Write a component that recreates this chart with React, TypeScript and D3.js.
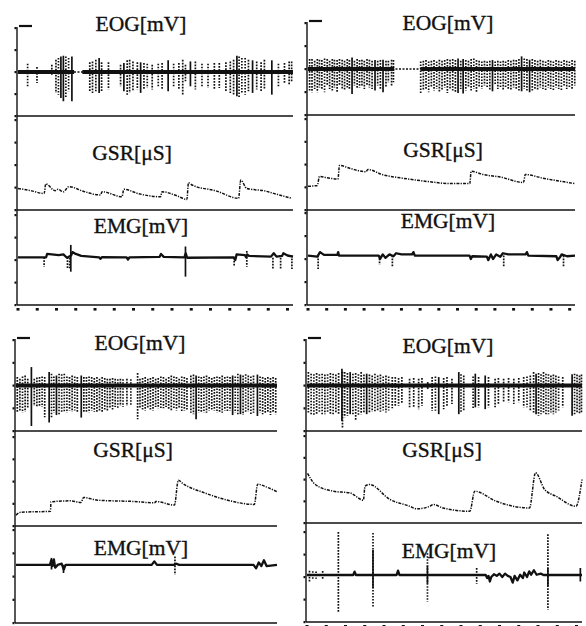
import React from 'react';
import * as d3 from 'd3';

type Spike = [number, number, number, number]; // t, hi, lo, solid(1)/dotted(0)
type Pt = [number, number];

// ---------- EOG spikes ----------
const eogSpikes1: Spike[] = [
  [3.5,0.38,-0.65,0],[6.9,0.23,-0.5,0],[12.3,0.33,-0.12,0],[13.8,0.56,-0.95,0],[14.7,0.64,-1.03,0],[15.6,0.71,-1.18,1],[16.5,0.74,-1.33,1],[17.4,0.71,-1.18,0],[18.4,0.64,-0.88,0],[19.6,0.71,-1.33,1],
  [26.1,0.44,-0.88,0],[27.1,0.48,-0.95,0],[28.3,0.56,-0.88,0],[29.5,0.64,-0.95,1],[30.4,0.44,-0.88,0],[32.9,0.44,-0.8,0],[37.3,0.33,-0.65,0],[38.5,0.41,-0.88,1],[39.7,0.53,-1.03,0],[40.6,0.56,-0.95,0],
  [41.8,0.48,-0.88,0],[43.4,0.44,-0.8,0],[44.6,0.44,-0.95,1],[45.8,0.41,-0.8,0],[47,0.38,-0.73,0],[48.8,0.33,-0.8,0],[51,0.38,-0.65,0],[52.4,0.41,-0.8,0],[54.6,0.53,-0.88,1],[56.6,0.38,-0.65,0],
  [58.5,0.41,-0.8,0],[59.9,0.56,-1.03,0],[60.9,0.33,-0.42,0],[62.7,0.48,-0.65,1],[64.5,0.48,-0.8,0],[66.9,0.38,-0.65,0],[69.1,0.38,-0.73,0],[71.4,0.41,-0.8,0],[73.2,0.41,-0.73,0],[75.6,0.44,-0.88,0],
  [77.2,0.48,-0.95,0],[78.4,0.56,-1.03,0],[79.6,0.74,-1.1,1],[80.4,0.71,-1.18,0],[81.4,0.64,-0.95,0],[82.6,0.64,-1.03,0],[83.8,0.56,-0.88,0],[85.3,0.53,-0.95,1],[86.8,0.48,-0.8,0],[88.4,0.44,-0.88,0],
  [89.6,0.56,-0.8,0],[92.3,0.53,-1.03,1],[94.7,0.38,-0.65,0],[96.9,0.41,-0.5,0],[98.6,0.48,-0.58,0],[99.5,0.48,-0.42,0],
];
const eogSpikes2: Spike[] = [
  [0.6,0.43,-0.94,0],[1.5,0.43,-1.01,0],[2.5,0.36,-0.87,0],[3.5,0.43,-1.01,0],[4.3,0.4,-0.8,0],[5.2,0.39,-0.87,0],[6.2,0.46,-1.01,0],[7.2,0.43,-0.72,0],[8.1,0.36,-0.87,0],[9.1,0.43,-0.94,0],
  [9.9,0.4,-0.8,0],[10.9,0.39,-1.01,0],[11.8,0.43,-0.72,0],[12.8,0.4,-0.87,0],[13.7,0.36,-0.94,0],[14.7,0.43,-0.8,0],[15.5,0.39,-0.87,0],[16.5,0.5,-1.09,1],[17.4,0.36,-0.72,0],[18.4,0.43,-0.87,0],
  [19.3,0.39,-0.8,0],[20.2,0.4,-0.72,0],[21.1,0.36,-0.87,0],[22.1,0.43,-0.72,0],[23,0.4,-0.8,0],[24,0.36,-0.87,0],[25.1,0.39,-0.94,1],[26.1,0.36,-0.72,0],[27.1,0.39,-0.87,0],[28.1,0.4,-1.01,1],
  [29.2,0.36,-0.8,0],[30.1,0.36,-0.58,0],[31.3,0.4,-0.72,0],[32,0.39,-0.58,0],
  [42.2,0.33,-1.09,0],[43.2,0.36,-0.94,0],[44.2,0.39,-0.87,0],[45.2,0.33,-1.01,0],[46.2,0.36,-0.8,0],[47.2,0.39,-0.94,0],[48.2,0.33,-0.87,0],[49.2,0.4,-1.01,0],[50.2,0.36,-0.94,0],[51.2,0.39,-0.8,0],
  [52.2,0.43,-1.04,0],[53.2,0.4,-0.87,0],[54.2,0.43,-0.94,0],[55.2,0.39,-1.01,0],[56.2,0.46,-1.04,1],[57.2,0.36,-0.87,0],[58.1,0.43,-1.06,1],[59.1,0.39,-0.94,0],[60.1,0.36,-0.8,0],[61.1,0.43,-0.94,0],
  [62.1,0.46,-0.87,0],[63.1,0.39,-1.01,0],[64.1,0.36,-0.8,0],[65.1,0.33,-0.87,0],[66.1,0.36,-0.72,0],[67.1,0.33,-0.8,0],[68.1,0.36,-0.94,0],[69.1,0.39,-0.97,1],[70.1,0.33,-0.72,0],[71.1,0.36,-0.87,0],
  [72.1,0.33,-0.8,0],[73.1,0.36,-0.94,0],[74,0.33,-0.8,0],[75,0.39,-0.87,0],[76,0.36,-0.94,0],[77,0.4,-0.8,0],[78,0.39,-0.87,0],[79,0.43,-0.94,0],[80,0.55,-0.97,1],[81,0.46,-0.87,0],
  [82,0.43,-0.94,0],[83,0.4,-1.01,1],[84,0.43,-0.94,0],[85,0.39,-0.87,0],[86,0.36,-0.94,0],[87,0.4,-0.8,0],[88,0.36,-0.87,0],[89,0.33,-0.94,0],[90,0.39,-0.8,0],[90.9,0.36,-0.87,0],
  [91.9,0.33,-0.94,0],[92.9,0.39,-0.8,0],[93.9,0.36,-0.87,0],[94.9,0.33,-0.94,0],[95.9,0.39,-0.72,0],[96.9,0.36,-0.87,0],[97.9,0.33,-0.8,0],[98.9,0.39,-0.87,0],[99.9,0.36,-0.72,0],
];
const eogSpikes3: Spike[] = [
  [0.5,0.37,-1.2,0],[1.5,0.3,-1.1,0],[2.5,0.4,-1.2,0],[3.5,0.44,-1.15,0],[4.5,0.3,-1.0,0],[5.9,0.81,-1.78,1],[7,0.3,-0.9,0],[8,0.35,-0.95,0],[9,0.37,-0.9,0],[10,0.4,-0.95,0],
  [11,0.37,-1.4,0],[12.7,0.59,-1.63,1],[13.6,0.52,-1.41,0],[14.5,0.4,-1.2,0],[15.5,0.44,-1.3,1],[16.5,0.52,-1.26,0],[17.5,0.5,-1.2,0],[18.5,0.52,-1.15,0],[19.5,0.4,-1.2,0],[20.5,0.37,-1.1,0],
  [21.5,0.44,-1.15,0],[22.5,0.4,-1.1,0],[23.5,0.37,-1.2,0],[25,0.44,-1.41,1],[26,0.37,-1.2,0],[27,0.37,-1.15,0],[28,0.4,-1.2,0],[29,0.37,-1.1,0],[30,0.33,-1.15,0],[31,0.37,-1.2,0],
  [32,0.3,-1.1,0],[33,0.37,-1.15,0],[34,0.33,-1.05,0],[35,0.3,-1.1,0],[36,0.3,-1.0,0],[37,0.33,-1.05,0],[38,0.3,-0.95,0],[39,0.28,-1.0,0],[40,0.3,-0.9,0],[41,0.28,-0.95,0],
  [42.5,0.3,-0.9,0],[44,0.28,-0.85,0],[46.6,0.55,-1.48,0],[47.5,0.3,-1.0,0],[48.5,0.33,-1.05,0],[49.5,0.37,-1.1,0],[50.5,0.3,-1.0,0],[51.5,0.33,-1.05,0],[52.5,0.37,-1.1,0],[53.5,0.3,-0.95,0],
  [54.5,0.33,-1.0,0],[55.5,0.4,-1.05,0],[56.5,0.37,-1.0,0],[57.5,0.3,-0.95,0],[58.5,0.37,-1.05,0],[59.5,0.44,-1.1,0],[60.5,0.4,-1.05,0],[61.5,0.37,-1.1,0],[62.5,0.3,-1.0,0],[63.5,0.4,-1.15,0],
  [64.5,0.37,-1.1,0],[65.5,0.33,-1.05,0],[67,0.44,-1.2,0],[68,0.48,-1.26,0],[69,0.44,-1.48,1],[70,0.4,-1.2,0],[71,0.37,-1.15,0],[72,0.4,-1.2,0],[73,0.44,-1.2,0],[74,0.37,-1.1,0],
  [75,0.33,-1.05,0],[76,0.37,-1.1,0],[77,0.4,-1.2,0],[78,0.37,-1.15,0],[79,0.44,-1.2,0],[80,0.37,-1.1,0],[81,0.4,-1.15,0],[82,0.37,-1.1,0],[83,0.44,-1.3,1],[84,0.4,-1.2,0],
  [85,0.52,-1.3,0],[86,0.48,-1.26,1],[87,0.44,-1.3,0],[88,0.5,-1.2,0],[89,0.44,-1.15,0],[90,0.4,-1.3,0],[91,0.44,-1.2,0],[92.5,0.48,-1.34,1],[93.5,0.4,-1.2,0],[94.5,0.37,-1.26,0],
  [95.5,0.33,-1.2,0],[96.5,0.37,-1.15,0],[97.5,0.33,-1.3,0],[98.5,0.37,-1.2,0],[99.5,0.33,-1.26,0],
];
const eogSpikes4: Spike[] = [
  [0.5,0.59,-1.19,0],[1.5,0.52,-1.26,0],[2.5,0.5,-1.33,0],[3.5,0.55,-1.26,0],[4.5,0.5,-1.19,0],[5.5,0.52,-1.33,0],[6.5,0.48,-1.26,0],[7.5,0.5,-1.19,0],[8.5,0.55,-1.26,0],[9.5,0.52,-1.33,0],
  [10.5,0.48,-1.19,0],[11.5,0.55,-1.3,0],[12.7,0.74,-1.56,1],[12.9,0.6,-1.85,0],[13.7,0.59,-1.4,0],[14.7,0.55,-1.33,0],[15.7,0.59,-1.26,1],[16.7,0.52,-1.3,0],[17.7,0.55,-1.56,0],[18.7,0.5,-1.3,0],
  [19.7,0.59,-1.26,0],[20.7,0.48,-1.19,0],[21.7,0.52,-1.26,1],[22.7,0.48,-1.19,0],[23.7,0.44,-1.15,0],[24.7,0.52,-1.2,0],[25.7,0.44,-1.1,0],[26.7,0.48,-1.15,0],[27.7,0.4,-1.1,0],[28.7,0.44,-1.19,0],
  [29.7,0.4,-1.1,0],[31,0.37,-1.0,0],[32.1,0.37,-0.89,0],[33.3,0.33,-0.89,0],[34.5,0.37,-0.81,0],[37.3,0.3,-0.96,0],[38.8,0.33,-0.96,0],[40.6,0.3,-1.04,0],[41.8,0.33,-0.89,0],[43.9,0.15,-0.15,1],
  [45.5,0.37,-1.11,0],[46.7,0.4,-1.11,0],[47.9,0.37,-1.26,1],[49.7,0.33,-1.04,0],[50.9,0.37,-0.89,0],[52.7,0.3,-0.81,0],[55.2,0.59,-1.26,1],[56,0.5,-1.19,0],[57,0.44,-1.11,0],[60.4,0.4,-1.04,0],
  [61.2,0.52,-0.96,1],[62.4,0.37,-0.96,0],[64.8,0.44,-1.04,1],[66,0.37,-0.96,0],[68.4,0.3,-0.96,0],[69.6,0.33,-0.81,0],[71.5,0.3,-0.74,0],[73.3,0.33,-0.74,0],[75.2,0.3,-0.81,0],[77,0.33,-0.74,0],
  [78.8,0.37,-0.96,0],[80,0.4,-0.96,0],[81.2,0.44,-1.11,0],[82.4,0.59,-1.19,0],[83.3,0.52,-1.26,1],[84.2,0.55,-1.33,0],[85.1,0.5,-1.26,0],[86,0.59,-1.19,0],[86.9,0.52,-1.33,0],[87.8,0.5,-1.26,0],
  [88.7,0.44,-1.19,0],[89.6,0.48,-1.26,0],[90.5,0.44,-1.19,0],[91.5,0.4,-1.1,0],[93,0.37,-0.96,0],[96.4,0.5,-1.33,1],[97.3,0.52,-1.26,0],[98.2,0.48,-1.19,0],[99.1,0.44,-1.26,0],[99.8,0.48,-1.19,0],
];

// thick EOG baseline segments (gaps are drawn dotted)
const eogBase1: Pt[] = [[0, 20.4], [23.4, 100]];
const eogBase2: Pt[] = [[0, 32.3], [42.2, 100]];
const eogBase3: Pt[] = [[0, 100]];
const eogBase4: Pt[] = [[0, 100]];

// ---------- GSR ----------
const gsr1: Pt[] = [
  [0,0.96],[5,0.85],[9.5,0.73],[10.1,1.16],[13.5,0.86],[14.5,0.92],[16.5,0.81],[18.5,1.04],[24,0.82],[30,0.67],[30.6,0.81],
  [37.8,0.59],[38.5,0.92],[44,0.72],[51.8,0.59],[52.4,0.81],[58,0.62],[61.4,0.47],[62,1.21],[63.3,1.11],[72,0.85],
  [80.2,0.52],[81,1.33],[83.2,0.96],[90,0.84],[92.9,0.74],[99.5,0.52],
];
const gsr2: Pt[] = [
  [0,1.04],[3.5,1.08],[4.3,1.48],[7,1.42],[11.2,1.36],[11.8,1.96],[16,1.82],[21.7,1.68],[22.4,1.78],[28,1.55],[34.8,1.41],
  [45,1.25],[53.4,1.16],[60.6,1.16],[61.1,1.7],[66,1.55],[72,1.45],[80.7,1.21],[81.4,1.56],[88,1.4],[100,1.16],
];
const gsr3: Pt[] = [
  [0,0.49],[1.9,0.62],[13.2,0.66],[13.4,1.09],[21.1,1.13],[24.9,1.06],[25.9,1.28],[31.3,1.16],[45.3,1.1],[53,1.04],[53.6,1.1],
  [60.7,0.94],[62.2,2.06],[63.9,1.91],[72,1.5],[81.1,1.16],[91.3,0.97],[92.6,1.88],[95.8,1.76],[100,1.54],
];
const gsr4: Pt[] = [
  [0.2,2.28],[3,1.77],[9.7,1.46],[15.7,1.38],[20.5,1.05],[21.1,1.69],[22.7,1.77],[30.2,1.08],[37.4,0.77],[39.9,0.65],[44.7,0.77],
  [45.9,0.85],[49.5,0.69],[59.2,0.54],[61,1.46],[68.8,1.0],[80.9,0.69],[83.1,2.31],[86.4,1.54],[90.6,1.23],[97.8,0.77],[100,2.0],
];

// ---------- EMG ----------
const emgLine1: Pt[] = [
  [0,0.12],[10.2,0.12],[10.6,0.27],[14.8,0.22],[16.5,0.25],[17.8,0.1],[19.3,0.2],[19.8,0.35],[21,0.27],[23,0.18],[29.5,0.12],[30,0.05],
  [30.5,0.13],[39.5,0.12],[40,0.02],[40.5,0.12],[51.5,0.14],[52,0.27],[53,0.14],[60.5,0.12],[61,0.3],[61.5,0.1],[78.5,0.12],[79,0.0],
  [79.5,0.25],[82.5,0.22],[83,0.12],[83.3,0.25],[84,0.18],[92,0.15],[93,0.3],[94,0.15],[96,0.18],[96.5,0.3],[98,0.2],[100,0.15],
];
const emgSpikes1: Spike[] = [
  [9.5,0.12,-0.3,0],[18,0.12,-0.4,0],[18.8,0.1,-0.37,0],[19.2,0.67,-0.52,1],[60.9,0.6,-0.74,1],[78.6,0.1,-0.3,0],[83.2,0.4,-0.3,0],[92.7,0.1,-0.4,0],[95.5,0.1,-0.4,0],[99.6,0.2,-0.4,0],
];
const emgLine2: Pt[] = [
  [0,0.15],[3.5,0.1],[4.5,0.3],[6,0.18],[11,0.18],[11.3,0.3],[11.6,0.15],[26.5,0.15],[27,0.0],[28,0.2],[29,0.05],[30.5,0.2],[32,0.12],
  [33,0.25],[35,0.2],[39,0.2],[39.5,0.3],[40,0.15],[60.5,0.15],[61,0.0],[61.5,0.12],[67,0.1],[67.5,-0.05],[68.5,0.2],[69.3,0.0],[70.5,0.2],
  [72,0.1],[73,0.25],[75,0.2],[81.5,0.2],[82,0.3],[82.5,0.15],[93,0.12],[93.5,-0.05],[94.5,0.1],[95,0.2],[97,0.12],[100,0.15],
];
const emgSpikes2: Spike[] = [
  [3.8,0.15,-0.44,0],[26.8,0.15,-0.25,0],[31.6,0.15,-0.37,0],[73.3,0.15,-0.37,0],[95.7,0.15,-0.37,0],
];
const emgLine3: Pt[] = [
  [0,0.5],[13,0.5],[13.5,0.7],[14,0.45],[14.5,0.74],[15,0.38],[16,0.5],[17.5,0.55],[18.3,0.3],[19,0.5],[52,0.5],[53,0.65],[54,0.5],
  [60.5,0.5],[61.5,0.55],[62.5,0.5],[91,0.5],[92,0.35],[93,0.6],[94,0.45],[95,0.7],[96,0.45],[100,0.5],
];
const emgSpikes3: Spike[] = [
  [13.6,0.8,0.3,1],[18.2,0.5,0.15,1],[60.9,0.86,0.07,0],
];
const emgLine4: Pt[] = [
  [0,0.09],[16.8,0.09],[17.3,0.24],[17.8,0.09],[32.6,0.09],[33.1,0.28],[33.6,0.09],[65,0.09],[65.5,-0.05],[66,0.05],[66.5,-0.2],[67,0.0],
  [68,0.12],[69,0.05],[70,0.15],[71,0.0],[72,0.15],[73,0.05],[74,0.0],[74.8,-0.25],[75.5,0.05],[76.5,-0.15],[77.5,0.1],[78.5,-0.05],
  [79,0.2],[80,0.0],[80.8,0.25],[81.5,0.1],[82.5,0.3],[83.5,0.1],[85,0.15],[86,0.09],[100,0.09],
];
const emgSpikes4: Spike[] = [
  [0.9,0.28,-0.2,0],[2.1,0.26,-0.12,0],[3.3,0.25,-0.08,0],[5.7,0.27,-0.12,0],[11.4,2.0,-1.56,0],[24,1.96,-1.36,0],[24,1.2,-0.5,1],
  [43.8,1.06,-1.1,0],[43.8,0.5,-0.3,1],[61.7,0.4,-0.3,0],[87.6,1.9,-1.45,0],[87.6,0.4,-0.4,1],[99.4,0.4,-0.2,1],
];

// ---------- ticks / titles ----------
const xTicks = [0, 7, 14, 21, 28, 35, 42, 49, 56, 63, 70, 77, 84, 91, 98];
const symTicks = [-2, -1, 0, 1, 2];
const gsrTicks = [0, 1, 2, 3, 4];
const titles = ['EOG[mV]', 'GSR[\u03BCS]', 'EMG[mV]'];

type Layout = {
  x0: number; x1: number;
  eog: Pt; gsr: Pt; emg: Pt;
  tEog: Pt; tGsr: Pt; tEmg: Pt;
};

const layouts: Layout[] = [
  { x0: 17, x1: 293, eog: [28, 116], gsr: [120, 210], emg: [215, 305], tEog: [141, 31], tGsr: [132, 160], tEmg: [141, 233] },
  { x0: 307, x1: 575, eog: [23, 115], gsr: [119, 210], emg: [213, 305], tEog: [448, 30], tGsr: [443, 157], tEmg: [448, 228] },
  { x0: 15, x1: 277, eog: [340, 431], gsr: [437, 526], emg: [530, 623], tEog: [140, 350], tGsr: [133, 457], tEmg: [141, 555] },
  { x0: 306, x1: 582, eog: [340, 431], gsr: [436, 523], emg: [532, 622], tEog: [448, 353], tGsr: [442, 457], tEmg: [449, 558] },
];

const panelData = [
  { eog: eogSpikes1, base: eogBase1, gsr: gsr1, emgL: emgLine1, emgS: emgSpikes1 },
  { eog: eogSpikes2, base: eogBase2, gsr: gsr2, emgL: emgLine2, emgS: emgSpikes2 },
  { eog: eogSpikes3, base: eogBase3, gsr: gsr3, emgL: emgLine3, emgS: emgSpikes3 },
  { eog: eogSpikes4, base: eogBase4, gsr: gsr4, emgL: emgLine4, emgS: emgSpikes4 },
];

const INK = '#111';
const FONT = '"Liberation Serif", "Times New Roman", serif';

function Spikes({ data, x, y }: { data: Spike[]; x: any; y: any }) {
  return (
    <g>
      {data.map((s, i) => (
        <line
          key={i}
          x1={x(s[0])} x2={x(s[0])} y1={y(s[1])} y2={y(s[2])}
          stroke={INK}
          strokeWidth={s[3] ? 1.7 : 1.7}
          strokeDasharray={s[3] ? undefined : '1.7 1.3'}
        />
      ))}
    </g>
  );
}

function Panel({ L, D }: { L: Layout; D: typeof panelData[number] }) {
  const x = d3.scaleLinear().domain([0, 100]).range([L.x0 + 1, L.x1]);
  const yE = d3.scaleLinear().domain([-2, 2]).range([L.eog[1], L.eog[0]]);
  const yG = d3.scaleLinear().domain([0, 4]).range([L.gsr[1], L.gsr[0]]);
  const yM = d3.scaleLinear().domain([-2, 2]).range([L.emg[1], L.emg[0]]);
  const gsrLine = d3.line<Pt>().x(d => x(d[0])).y(d => yG(d[1])).curve(d3.curveMonotoneX);
  const emgLine = d3.line<Pt>().x(d => x(d[0])).y(d => yM(d[1]));

  const yTickGroups: [any, number[]][] = [[yE, symTicks], [yG, gsrTicks], [yM, symTicks]];

  return (
    <g>
      {/* EOG */}
      <Spikes data={D.eog} x={x} y={yE} />
      <line x1={x(0)} x2={x(100)} y1={yE(0)} y2={yE(0)} stroke={INK} strokeWidth={1.4} strokeDasharray="2 1.5" />
      {D.base.map((b, i) => (
        <line key={i} x1={x(b[0])} x2={x(b[1])} y1={yE(0)} y2={yE(0)} stroke={INK} strokeWidth={3.8} />
      ))}
      {/* GSR */}
      <path d={gsrLine(D.gsr) || ''} fill="none" stroke={INK} strokeWidth={1.5} strokeDasharray="3 1.2 1.2 1.2" />
      {/* EMG */}
      <Spikes data={D.emgS} x={x} y={yM} />
      <path d={emgLine(D.emgL) || ''} fill="none" stroke={INK} strokeWidth={2.3} strokeLinejoin="round" />

      {/* axes */}
      <line x1={L.x0} x2={L.x0} y1={L.eog[0] - 1} y2={L.emg[1]} stroke={INK} strokeWidth={1.4} />
      {[L.eog, L.gsr, L.emg].map((r, i) => (
        <line key={i} x1={L.x0} x2={L.x1} y1={r[1]} y2={r[1]} stroke={INK} strokeWidth={1.4} />
      ))}
      <line x1={L.x0 + 2} x2={L.x0 + 15} y1={L.eog[0] - 2} y2={L.eog[0] - 2} stroke={INK} strokeWidth={2.2} />
      {yTickGroups.map(([sc, ticks], gi) =>
        ticks.map((t, i) => (
          <rect key={gi + '-' + i} x={L.x0 - 2.5} y={sc(t) - 1} width={2} height={2.2} fill={INK} />
        ))
      )}
      {xTicks.map((t, i) => (
        <rect key={i} x={x(t) - 1.5} y={L.emg[1] + 3} width={3} height={2.6} fill={INK} />
      ))}

      {/* titles */}
      {[L.tEog, L.tGsr, L.tEmg].map((p, i) => (
        <text key={i} x={p[0]} y={p[1]} textAnchor="middle" fontFamily={FONT} fontSize={21.5}
          fill={INK} stroke={INK} strokeWidth={0.35}>
          {titles[i]}
        </text>
      ))}
    </g>
  );
}

export default function App() {
  return (
    <svg
      width={586}
      height={626}
      viewBox="0 0 586 626"
      style={{ position: 'absolute', left: 0, top: 0, background: '#fff' }}
    >
      <rect x={0} y={0} width={586} height={626} fill="#fff" />
      {layouts.map((L, i) => (
        <Panel key={i} L={L} D={panelData[i]} />
      ))}
    </svg>
  );
}
